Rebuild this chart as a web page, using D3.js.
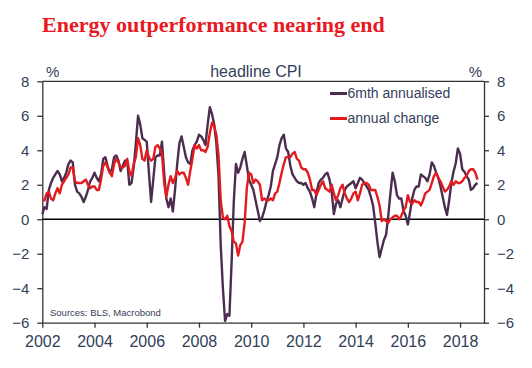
<!DOCTYPE html>
<html lang="en">
<head>
<meta charset="utf-8">
<script src="https://d3js.org/d3.v7.min.js"></script>
<style>
  body { margin: 0; background: #fff; }
  text { font-family: "Liberation Sans", Arial, sans-serif; }
</style>
</head>
<body>
<script>
// monthly data, Jan 2002 .. Sep 2018
const startYear = 2002;
const seriesNames = ["6mth annualised", "annual change"];
const yTicks = [-6, -4, -2, 0, 2, 4, 6, 8];
const xTicks = [2002, 2004, 2006, 2008, 2010, 2012, 2014, 2016, 2018];

const sixMonth = [
  0.3, 0.7, 0.6, 1.7, 2.1, 2.4, 2.6, 2.8, 2.6, 2.2, 2.4, 2.7,
  3.2, 3.4, 3.3, 2.0, 1.6, 1.5, 1.3, 1.0, 1.3, 1.7, 2.2, 2.4,
  2.7, 2.4, 2.2, 2.6, 3.5, 3.6, 3.1, 2.7, 2.9, 3.6, 3.7, 3.4,
  2.8, 3.1, 3.4, 3.4, 2.0, 2.1, 3.0, 4.4, 6.0, 5.5, 4.7, 4.6,
  4.5, 2.7, 1.0, 2.3, 3.6, 3.7, 3.7, 4.5, 2.7, 1.2, 0.7, 1.2,
  0.45, 1.7, 3.2, 4.4, 4.8, 4.2, 3.6, 3.3, 3.2, 4.0, 4.3, 4.5,
  4.9, 4.8, 4.6, 4.3, 5.5, 6.5, 6.1, 5.5, 4.4, 2.5, -1.5, -4.0,
  -5.9, -5.5, -5.6, -2.5, 1.0, 3.2, 2.7, 3.0, 3.5, 3.9, 3.1, 2.3,
  2.0, 1.7, 1.1, 0.5, -0.1, 0.1, 0.5, 1.0, 1.4, 1.9, 2.8, 3.2,
  3.6, 4.3, 4.7, 4.9, 4.1, 3.9, 3.1, 2.6, 2.4, 2.2, 2.1, 2.1,
  2.0, 2.1, 1.8, 1.6, 1.2, 0.7, 1.5, 2.1, 2.3, 2.4, 2.6, 2.7,
  2.3, 1.6, 0.3, 0.9, 1.1, 0.7, 1.2, 1.7, 1.9, 2.0, 2.1, 2.2,
  1.8, 2.1, 2.4, 2.3, 2.1, 1.9, 1.7, 1.3, 0.8, -0.2, -1.3, -2.2,
  -1.7, -1.2, -0.9, 0.2, 1.5, 2.7, 2.2, 1.4, 1.2, 1.2, 0.5, 0.2,
  -0.3, 0.4, 1.2, 1.7, 1.9, 1.9, 2.6, 2.5, 2.4, 2.2, 2.6, 3.3,
  3.1, 2.7, 2.4, 1.9, 1.3, 0.7, 0.25, 1.1, 2.1, 2.75, 3.25, 4.1,
  3.8, 2.9, 2.75, 2.5, 2.3, 1.7, 1.8, 2.0, 2.1
];

const annual = [
  1.1, 1.1, 1.5, 1.6, 1.2, 1.1, 1.5, 1.8, 1.5, 2.0, 2.2, 2.4,
  2.6, 3.0, 3.0, 2.2, 2.1, 2.1, 2.1, 2.2, 2.3, 2.0, 1.8, 1.9,
  1.9, 1.7, 1.7, 2.3, 3.1, 3.3, 3.0, 2.7, 2.5, 3.2, 3.5, 3.3,
  3.0, 3.0, 3.1, 3.5, 2.8, 2.5, 3.2, 3.6, 4.7, 4.3, 3.5, 3.4,
  4.0, 3.6, 3.4, 3.5, 4.2, 4.3, 4.1, 3.8, 2.1, 1.3, 2.0, 2.5,
  2.1, 2.4, 2.8, 2.6, 2.7, 2.7, 2.4, 2.0, 2.8, 3.5, 4.3, 4.1,
  4.3, 4.0, 4.0, 3.9, 4.2, 5.0, 5.6, 5.4, 4.9, 3.7, 1.1, 0.1,
  0.0, 0.2, -0.4, -0.7, -1.3, -1.4, -2.1, -1.5, -1.3, -0.2, 1.8, 2.7,
  2.6, 2.1, 2.3, 2.2, 2.0, 1.1, 1.2, 1.1, 1.1, 1.2, 1.1, 1.5,
  1.6, 2.1, 2.7, 3.2, 3.6, 3.6, 3.6, 3.8, 3.9, 3.5, 3.4, 3.0,
  2.9, 2.9, 2.7, 2.3, 1.7, 1.7, 1.4, 1.7, 2.0, 2.2, 1.8, 1.7,
  1.6, 2.0, 1.5, 1.1, 1.4, 1.8, 2.0, 1.5, 1.2, 1.0, 1.2, 1.5,
  1.6, 1.1, 1.5, 2.0, 2.1, 2.1, 2.0, 1.7, 1.7, 1.7, 1.3, 0.8,
  -0.1, 0.0, -0.1, -0.2, 0.0, 0.1, 0.2, 0.2, 0.0, 0.2, 0.5, 0.7,
  1.4, 1.0, 0.9, 1.1, 1.0, 1.0, 0.8, 1.1, 1.5, 1.6, 1.7, 2.1,
  2.5, 2.7, 2.4, 2.2, 1.9, 1.6, 1.7, 1.9, 2.2, 2.0, 2.2, 2.1,
  2.1, 2.2, 2.4, 2.5, 2.8, 2.9, 2.9, 2.7, 2.3
];

const W = 532, H = 368;
const plotLeft = 42.3, plotRight = 484, plotTop = 81.3, plotBottom = 322.7;
const axisColor = "#333333";
const labelColor = "#33405a";
const purple = "#4b2d4f";
const red = "#e31b1f";

const svg = d3.select("body").append("svg")
  .attr("width", W)
  .attr("height", H);

const x = d3.scaleLinear()
  .domain([startYear, startYear + 203 / 12])
  .range([plotLeft, plotRight]);

const y = d3.scaleLinear()
  .domain([-6, 8])
  .range([plotBottom, plotTop]);

// title
svg.append("text")
  .attr("x", 42)
  .attr("y", 32)
  .style("font-family", "'Liberation Serif', 'Times New Roman', serif")
  .style("font-weight", "bold")
  .style("font-size", "22px")
  .attr("fill", "#e8191f")
  .text("Energy outperformance nearing end");

// axes
const yl = svg.append("g")
  .attr("transform", "translate(" + plotLeft + ",0)")
  .call(d3.axisLeft(y).tickValues(yTicks).tickSize(5).tickSizeOuter(0).tickPadding(8));
const yr = svg.append("g")
  .attr("transform", "translate(" + plotRight + ",0)")
  .call(d3.axisRight(y).tickValues(yTicks).tickSize(5).tickSizeOuter(0).tickPadding(8));
const xb = svg.append("g")
  .attr("transform", "translate(0," + plotBottom + ")")
  .call(d3.axisBottom(x).tickValues(xTicks).tickFormat(d3.format("d")).tickSize(5).tickSizeOuter(0).tickPadding(8));

[yl, yr, xb].forEach(g => {
  g.selectAll("path, line").attr("stroke", axisColor).attr("stroke-width", 1.3);
  g.selectAll("text").attr("fill", labelColor).style("font-size", "15px")
    .style("font-family", "'Liberation Sans', Arial, sans-serif");
});
xb.selectAll("text").style("font-size", "16px");

// top border
svg.append("line")
  .attr("x1", plotLeft).attr("x2", plotRight)
  .attr("y1", plotTop).attr("y2", plotTop)
  .attr("stroke", axisColor).attr("stroke-width", 1.3);

// zero line
svg.append("line")
  .attr("x1", plotLeft).attr("x2", plotRight)
  .attr("y1", y(0)).attr("y2", y(0))
  .attr("stroke", "#000").attr("stroke-width", 1.3);

// lines
const line = d3.line()
  .x((d, i) => x(startYear + i / 12))
  .y(d => y(d));

svg.append("path")
  .datum(sixMonth)
  .attr("fill", "none")
  .attr("stroke", purple)
  .attr("stroke-width", 2.4)
  .attr("stroke-linejoin", "round")
  .attr("d", line);

svg.append("path")
  .datum(annual)
  .attr("fill", "none")
  .attr("stroke", red)
  .attr("stroke-width", 2.4)
  .attr("stroke-linejoin", "round")
  .attr("d", line);

// unit labels and subtitle
svg.append("text").attr("x", 46).attr("y", 77)
  .attr("fill", labelColor).style("font-size", "15px").text("%");
svg.append("text").attr("x", 482).attr("y", 77).attr("text-anchor", "end")
  .attr("fill", labelColor).style("font-size", "15px").text("%");
svg.append("text").attr("x", 256).attr("y", 77).attr("text-anchor", "middle")
  .attr("fill", labelColor).style("font-size", "16px").text("headline CPI");

// legend
const legend = svg.append("g");
[purple, red].forEach((c, i) => {
  const ly = 93.5 + i * 25;
  legend.append("line")
    .attr("x1", 330).attr("x2", 347)
    .attr("y1", ly).attr("y2", ly)
    .attr("stroke", c).attr("stroke-width", 3);
  legend.append("text")
    .attr("x", 347.5).attr("y", ly).attr("dy", "0.35em")
    .attr("fill", labelColor).style("font-size", "14px")
    .text(seriesNames[i]);
});

// source
svg.append("text").attr("x", 50).attr("y", 316)
  .attr("fill", labelColor).style("font-size", "9.5px")
  .text("Sources: BLS, Macrobond");
</script>
</body>
</html>
